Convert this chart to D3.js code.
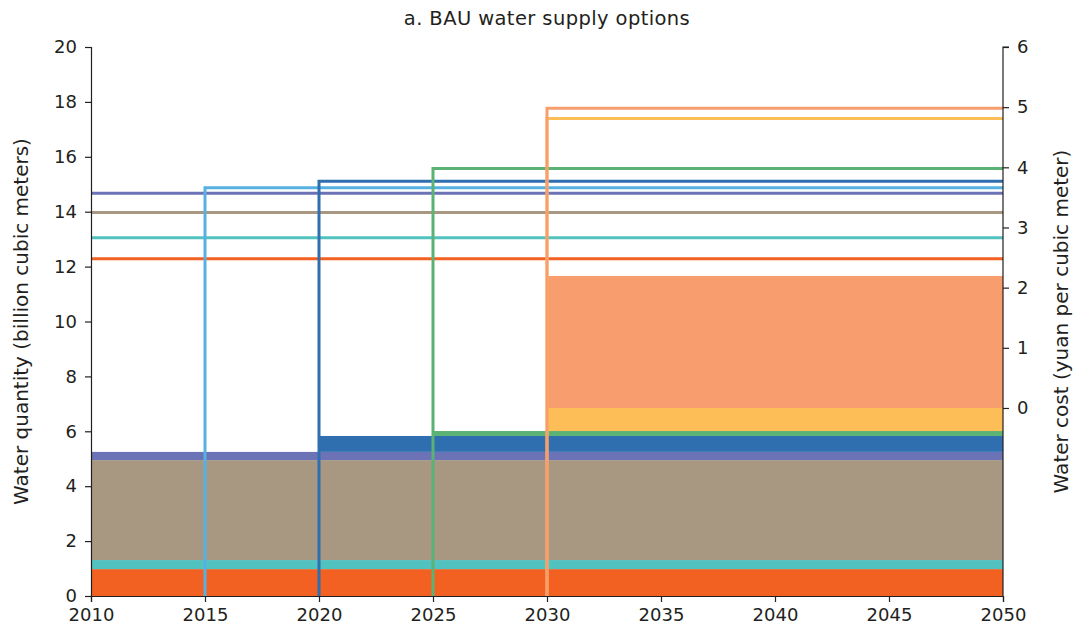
<!DOCTYPE html>
<html>
<head>
<meta charset="utf-8">
<script src="https://cdn.jsdelivr.net/npm/d3@7"></script>
<style>
  body { margin: 0; background: #fff; }
  svg text { font-family: "DejaVu Sans", sans-serif; fill: #231f20; }
  .axis path, .axis line { stroke: #231f20; stroke-width: 1.2; }
</style>
</head>
<body>
<svg id="chart" width="1083" height="635"></svg>
<script>
// supply options, bottom of the stack first
var options = ['opt1', 'opt2', 'opt3', 'opt4', 'opt5', 'opt6', 'opt7', 'opt8', 'opt9'];
var colors = ['#f26122', '#52c2c0', '#a89882', '#6b72b6', '#56b1e2', '#2f6fb0', '#5ab275', '#fdbe58', '#f79d6e'];
var startYear = [2010, 2010, 2010, 2010, 2015, 2020, 2025, 2030, 2030];
var quantity = [0.98, 0.33, 3.64, 0.30, 0, 0.58, 0.18, 0.84, 4.81];   // billion m3
var cost = [2.48, 2.83, 3.25, 3.57, 3.66, 3.77, 3.98, 4.81, 4.98];      // yuan / m3
var yearTicks = [2010, 2015, 2020, 2025, 2030, 2035, 2040, 2045, 2050];
var qtyTicks = [0, 2, 4, 6, 8, 10, 12, 14, 16, 18, 20];
var costTicks = [0, 1, 2, 3, 4, 5, 6];

var svg = d3.select('#chart');
var margin = {left: 91, right: 80, top: 47, bottom: 39};
var W = 1083, H = 635;

var x = d3.scaleLinear().domain([2010, 2050]).range([margin.left, W - margin.right]);
var y = d3.scaleLinear().domain([0, 20]).range([H - margin.bottom, margin.top]);
// right axis: 0 sits on the top of the 2030 stack, 6 at the top of the frame
var y0cost = y(6.85);
var yc = d3.scaleLinear().domain([0, 6]).range([y0cost, margin.top]);

// stacked areas
var base = 0;
options.forEach(function(o, i) {
    var lo = base, hi = base + quantity[i];
    base = hi;
    if (quantity[i] <= 0) return;
    svg.append('rect')
        .attr('x', x(startYear[i]))
        .attr('y', y(hi))
        .attr('width', x(2050) - x(startYear[i]))
        .attr('height', y(lo) - y(hi))
        .attr('fill', colors[i]);
});

// cost lines: rise from zero at the start year, then run flat to 2050
var line = d3.line().x(function(d) { return d[0]; }).y(function(d) { return d[1]; });
options.forEach(function(o, i) {
    var pts = [];
    if (startYear[i] > 2010) pts.push([x(startYear[i]), y(0)]);
    pts.push([x(startYear[i]), yc(cost[i])]);
    pts.push([x(2050), yc(cost[i])]);
    svg.append('path')
        .attr('d', line(pts))
        .attr('fill', 'none')
        .attr('stroke', colors[i])
        .attr('stroke-width', 3);
});

function bigText(g) { g.selectAll('text').style('font-size', '18px').style('font-family', '"DejaVu Sans", sans-serif'); }

// axes
svg.append('g').attr('class', 'axis')
    .attr('transform', 'translate(' + margin.left + ',0)')
    .call(d3.axisLeft(y).tickValues(qtyTicks).tickSize(6).tickPadding(8))
    .call(bigText);

svg.append('g').attr('class', 'axis')
    .attr('transform', 'translate(0,' + y(0) + ')')
    .call(d3.axisBottom(x).tickValues(yearTicks).tickFormat(d3.format('d')).tickSize(6).tickPadding(6))
    .call(bigText);

var rightAxis = svg.append('g').attr('class', 'axis')
    .attr('transform', 'translate(' + x(2050) + ',0)')
    .call(d3.axisRight(yc).tickValues(costTicks).tickFormat(d3.format('d')).tickSize(6).tickPadding(8))
    .call(bigText);
// axis line runs down to the bottom
rightAxis.select('.domain').attr('d', 'M6,' + margin.top + 'H0V' + y(0));

svg.append('text')
    .attr('x', (x(2010) + x(2050)) / 2)
    .attr('y', 25)
    .attr('text-anchor', 'middle')
    .style('font-size', '19.5px')
    .style('letter-spacing', '0.4px')
    .text('a. BAU water supply options');

svg.append('text')
    .attr('transform', 'translate(28,' + ((y(0) + y(20)) / 2) + ') rotate(-90)')
    .attr('text-anchor', 'middle')
    .style('font-size', '20px')
    .text('Water quantity (billion cubic meters)');

svg.append('text')
    .attr('transform', 'translate(1068,' + ((y(0) + y(20)) / 2) + ') rotate(-90)')
    .attr('text-anchor', 'middle')
    .style('font-size', '20px')
    .text('Water cost (yuan per cubic meter)');
</script>
</body>
</html>
